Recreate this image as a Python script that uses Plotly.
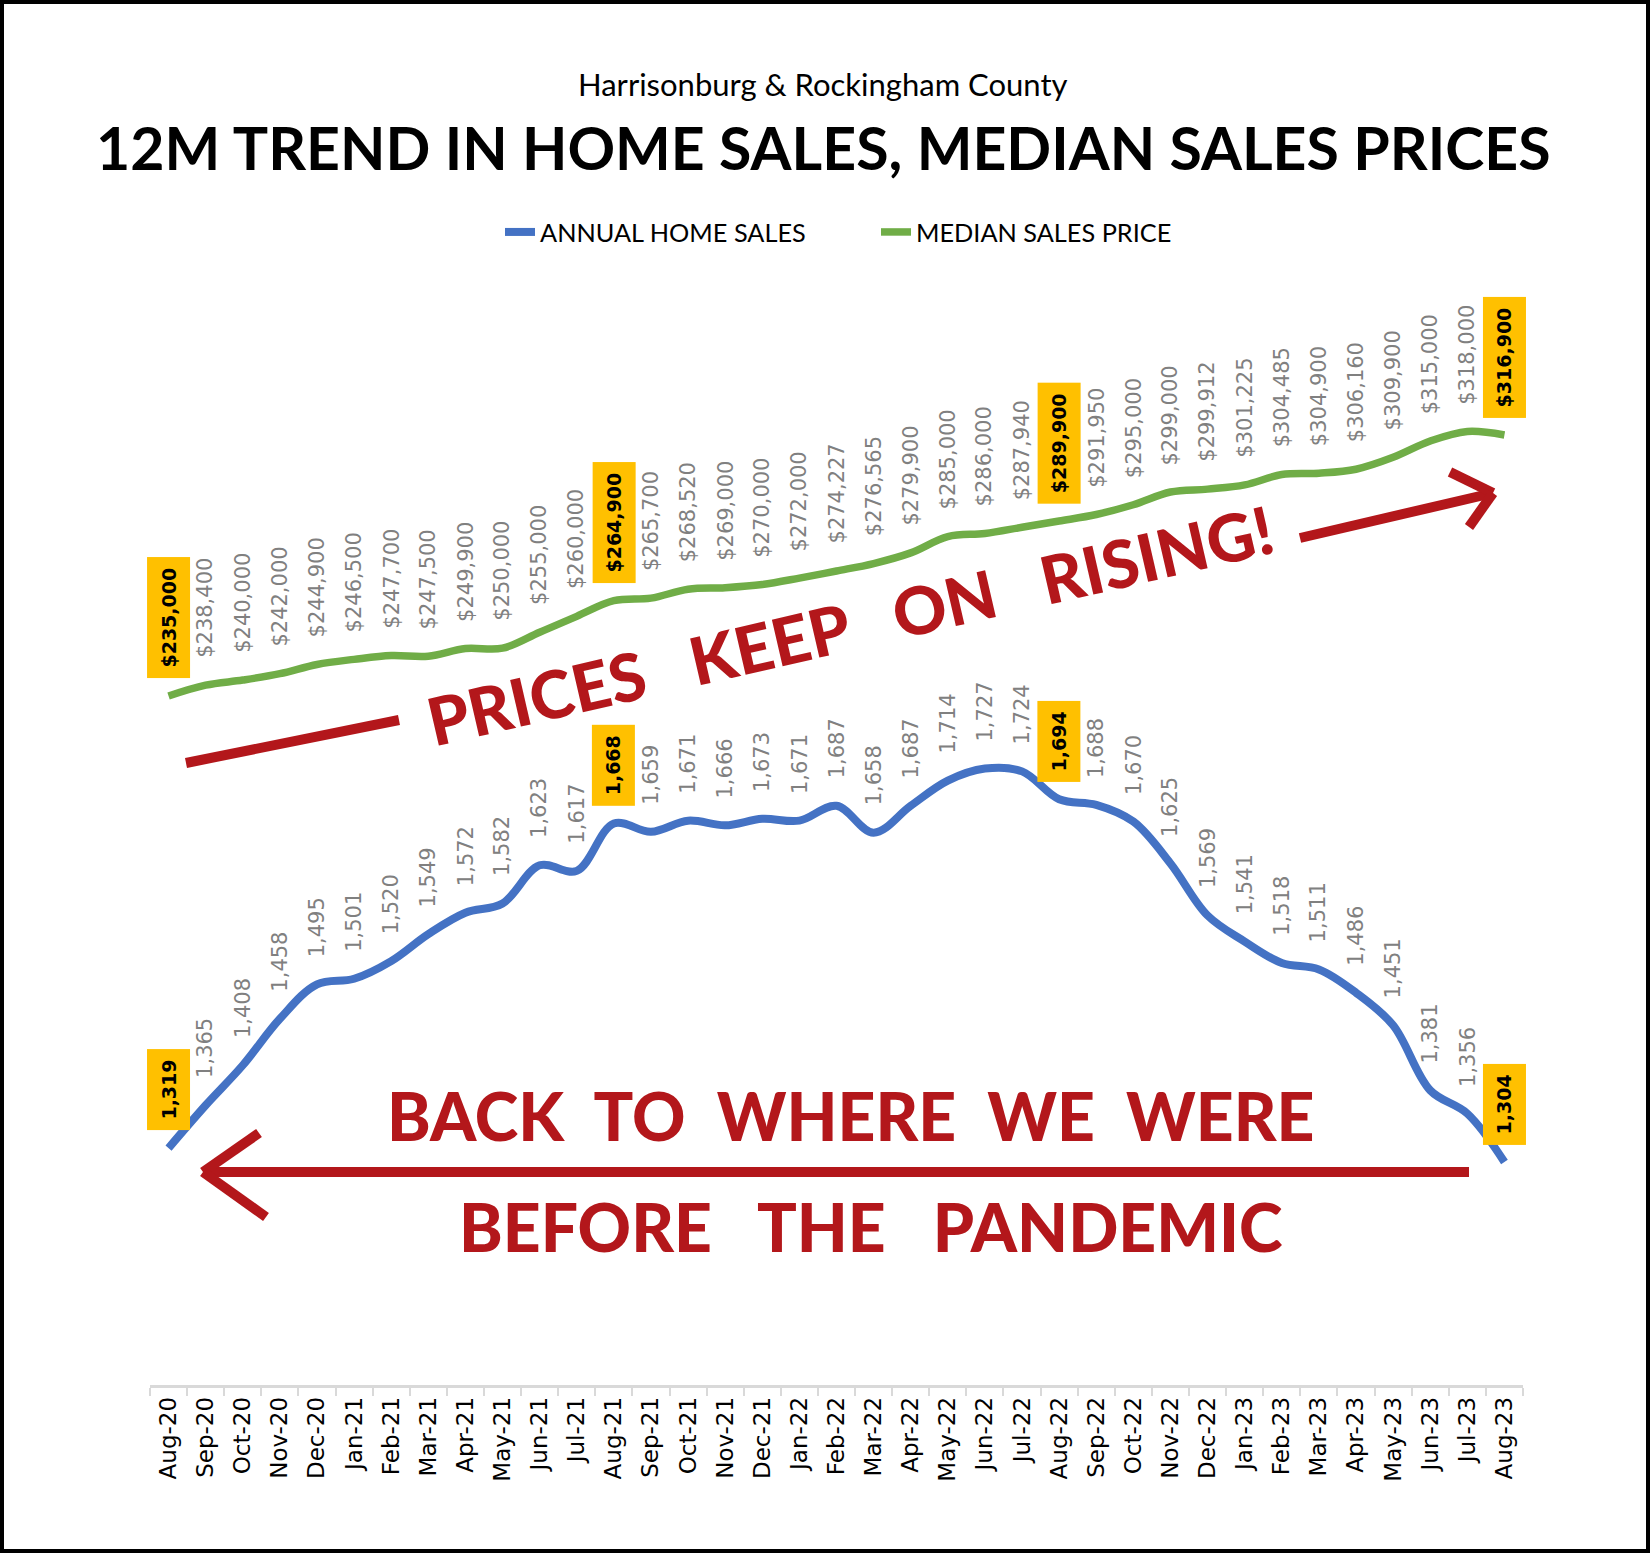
import plotly.graph_objects as go

# ---------------- data ----------------
months = ["Aug-20", "Sep-20", "Oct-20", "Nov-20", "Dec-20", "Jan-21", "Feb-21", "Mar-21",
          "Apr-21", "May-21", "Jun-21", "Jul-21", "Aug-21", "Sep-21", "Oct-21", "Nov-21",
          "Dec-21", "Jan-22", "Feb-22", "Mar-22", "Apr-22", "May-22", "Jun-22", "Jul-22",
          "Aug-22", "Sep-22", "Oct-22", "Nov-22", "Dec-22", "Jan-23", "Feb-23", "Mar-23",
          "Apr-23", "May-23", "Jun-23", "Jul-23", "Aug-23"]

annual_home_sales = [1319, 1365, 1408, 1458, 1495, 1501, 1520, 1549, 1572, 1582, 1623, 1617,
                     1668, 1659, 1671, 1666, 1673, 1671, 1687, 1658, 1687, 1714, 1727, 1724,
                     1694, 1688, 1670, 1625, 1569, 1541, 1518, 1511, 1486, 1451, 1381, 1356,
                     1304]

median_sales_price = [235000, 238400, 240000, 242000, 244900, 246500, 247700, 247500, 249900,
                      250000, 255000, 260000, 264900, 265700, 268520, 269000, 270000, 272000,
                      274227, 276565, 279900, 285000, 286000, 287940, 289900, 291950, 295000,
                      299000, 299912, 301225, 304485, 304900, 306160, 309900, 315000, 318000,
                      316900]

highlight_months = ["Aug-20", "Aug-21", "Aug-22", "Aug-23"]

# ---------------- layout geometry ----------------
W, H = 1650, 1554
ML, MR, MT, MB = 150, 127, 270, 169
PW = W - ML - MR
PH = H - MT - MB


def px(x):
    return (x - ML) / PW


def py(y):
    return (H - MB - y) / PH


BLUE = "#4472C4"
GREEN = "#70AD47"
GOLD = "#FFC000"
GRAY = "#808080"
RED = "#B3171B"

fig = go.Figure()
fig.add_trace(go.Scatter(
    x=months, y=annual_home_sales, name="ANNUAL HOME SALES", mode="lines",
    line=dict(color=BLUE, width=8, shape="spline", smoothing=1.0), yaxis="y",
    hoverinfo="skip"))
fig.add_trace(go.Scatter(
    x=months, y=median_sales_price, name="MEDIAN SALES PRICE", mode="lines",
    line=dict(color=GREEN, width=7.5, shape="spline", smoothing=1.0), yaxis="y2",
    hoverinfo="skip"))

annotations = []


def add_labels(values, yref, fmt):
    for m, v in zip(months, values):
        hl = m in highlight_months
        if hl:
            annotations.append(dict(
                x=m, y=v, xref="x", yref=yref, text="<b>" + fmt(v) + "</b>",
                textangle=-90, showarrow=False, xanchor="center", yanchor="bottom",
                yshift=17, bgcolor=GOLD, borderpad=10,
                font=dict(family="DejaVu Sans", size=19, color="black")))
        else:
            annotations.append(dict(
                x=m, y=v, xref="x", yref=yref, text=fmt(v),
                textangle=-90, showarrow=False, xanchor="center", yanchor="bottom",
                yshift=25, borderpad=1,
                font=dict(family="DejaVu Sans", size=21, color=GRAY)))


add_labels(annual_home_sales, "y", lambda v: f"{v:,}")
add_labels(median_sales_price, "y2", lambda v: f"${v:,}")

# titles
annotations.append(dict(
    x=px(823), y=py(84), xref="paper", yref="paper", showarrow=False,
    text="Harrisonburg &amp; Rockingham County", xanchor="center", yanchor="middle",
    font=dict(family="Lato", size=31, color="black")))
annotations.append(dict(
    x=px(823), y=py(147), xref="paper", yref="paper", showarrow=False,
    text="<b>12M TREND IN HOME SALES, MEDIAN SALES PRICES</b>", xanchor="center",
    yanchor="middle", font=dict(family="Lato", size=59, color="black")))

# hand-written style call-outs
NB = "\u00a0"
annotations.append(dict(
    x=px(850), y=py(624), xref="paper", yref="paper", showarrow=False,
    text=f"PRICES{NB*3}KEEP{NB*3}ON{NB*3}RISING!", textangle=-13,
    xanchor="center", yanchor="middle",
    font=dict(family="Lato", size=66, color=RED, weight=900)))
annotations.append(dict(
    x=px(851), y=py(1115), xref="paper", yref="paper", showarrow=False,
    text=f"BACK{NB*2}TO{NB*2}WHERE{NB*2}WE{NB*2}WERE",
    xanchor="center", yanchor="middle",
    font=dict(family="Lato", size=66, color=RED, weight=900)))
annotations.append(dict(
    x=px(871), y=py(1226), xref="paper", yref="paper", showarrow=False,
    text=f"BEFORE{NB*3}THE{NB*3}PANDEMIC",
    xanchor="center", yanchor="middle",
    font=dict(family="Lato", size=66, color=RED, weight=900)))

shapes = []


def seg(x0, y0, x1, y1, w=10):
    shapes.append(dict(type="line", xref="paper", yref="paper",
                       x0=px(x0), y0=py(y0), x1=px(x1), y1=py(y1),
                       line=dict(color=RED, width=w), layer="above"))


# rising arrow
seg(186, 763, 399, 720)
seg(1300, 538, 1493, 493)
seg(1450, 472, 1493, 493)
seg(1469, 527, 1493, 493)
# back arrow
seg(1469, 1172, 203, 1172)
seg(259, 1133, 203, 1172)
seg(266, 1217, 203, 1172)

# outer border
shapes.append(dict(type="rect", xref="paper", yref="paper",
                   x0=px(2), y0=py(2), x1=px(W - 2), y1=py(H - 3),
                   line=dict(color="black", width=4), fillcolor="rgba(0,0,0,0)",
                   layer="above"))

fig.update_layout(
    width=W, height=H,
    margin=dict(l=ML, r=MR, t=MT, b=MB, autoexpand=False),
    paper_bgcolor="white", plot_bgcolor="white",
    showlegend=True,
    legend=dict(orientation="h", x=0.5 + 51 / W, xref="container", xanchor="center",
                y=1 - 232 / H, yref="container", yanchor="middle",
                font=dict(family="Lato", size=25.3, color="black"),
                itemwidth=30, entrywidth=331, bgcolor="rgba(0,0,0,0)"),
    xaxis=dict(type="category", categoryorder="array", categoryarray=months,
               range=[-0.5, len(months) - 0.5], tickson="boundaries",
               ticks="outside", ticklen=8, tickwidth=2, tickcolor="#D9D9D9",
               showline=True, linecolor="#D9D9D9", linewidth=2.5,
               tickangle=-90, showgrid=False, zeroline=False,
               tickfont=dict(family="DejaVu Sans", size=23, color="black")),
    yaxis=dict(range=[1064.2, 2263.1], visible=False, showgrid=False, zeroline=False),
    yaxis2=dict(range=[18810, 368668], overlaying="y", visible=False,
                showgrid=False, zeroline=False),
    annotations=annotations,
    shapes=shapes,
    hovermode=False,
)

fig.write_html("out.html", config={"displayModeBar": False},
               post_script="document.body.style.margin='0';document.body.style.overflow='hidden';")
